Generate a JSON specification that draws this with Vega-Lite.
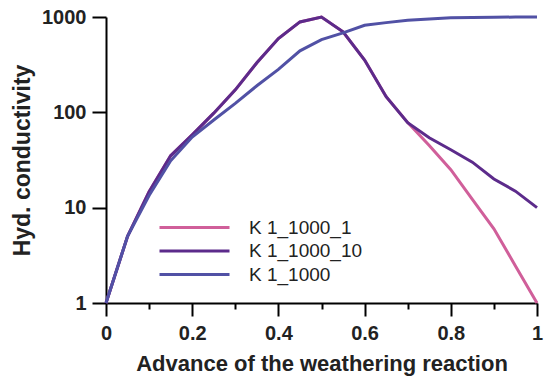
{
  "$schema": "https://vega.github.io/schema/vega-lite/v6.json",
  "autosize": {"type": "none"},
  "width": 431,
  "height": 286,
  "padding": {"left": 106, "top": 17, "right": 7, "bottom": 77},
  "background": "white",
  "config": {
    "view": {"stroke": null},
    "font": "Liberation Sans",
    "axis": {"grid": false, "ticks": true, "domainColor": "black", "domainWidth": 2, "tickColor": "black", "tickWidth": 2, "labelFont": "Liberation Sans", "labelFontWeight": "bold", "labelFontSize": 20, "labelColor": "#222", "titleFont": "Liberation Sans", "titleFontWeight": "bold", "titleColor": "#222"}
  },
  "data": {"values": [
    {"x": 0, "k": 1, "s": "K 1_1000_1"},
    {"x": 0.05, "k": 5, "s": "K 1_1000_1"},
    {"x": 0.1, "k": 14.7, "s": "K 1_1000_1"},
    {"x": 0.15, "k": 35, "s": "K 1_1000_1"},
    {"x": 0.2, "k": 58, "s": "K 1_1000_1"},
    {"x": 0.25, "k": 98, "s": "K 1_1000_1"},
    {"x": 0.3, "k": 172, "s": "K 1_1000_1"},
    {"x": 0.35, "k": 331, "s": "K 1_1000_1"},
    {"x": 0.4, "k": 594, "s": "K 1_1000_1"},
    {"x": 0.45, "k": 888, "s": "K 1_1000_1"},
    {"x": 0.5, "k": 1000, "s": "K 1_1000_1"},
    {"x": 0.55, "k": 698, "s": "K 1_1000_1"},
    {"x": 0.6, "k": 353, "s": "K 1_1000_1"},
    {"x": 0.65, "k": 146, "s": "K 1_1000_1"},
    {"x": 0.7, "k": 78, "s": "K 1_1000_1"},
    {"x": 0.75, "k": 45, "s": "K 1_1000_1"},
    {"x": 0.8, "k": 25, "s": "K 1_1000_1"},
    {"x": 0.85, "k": 12.2, "s": "K 1_1000_1"},
    {"x": 0.9, "k": 6.0, "s": "K 1_1000_1"},
    {"x": 0.95, "k": 2.45, "s": "K 1_1000_1"},
    {"x": 1.0, "k": 1, "s": "K 1_1000_1"},
    {"x": 0, "k": 1, "s": "K 1_1000_10"},
    {"x": 0.05, "k": 5, "s": "K 1_1000_10"},
    {"x": 0.1, "k": 14.7, "s": "K 1_1000_10"},
    {"x": 0.15, "k": 35, "s": "K 1_1000_10"},
    {"x": 0.2, "k": 58, "s": "K 1_1000_10"},
    {"x": 0.25, "k": 98, "s": "K 1_1000_10"},
    {"x": 0.3, "k": 172, "s": "K 1_1000_10"},
    {"x": 0.35, "k": 331, "s": "K 1_1000_10"},
    {"x": 0.4, "k": 594, "s": "K 1_1000_10"},
    {"x": 0.45, "k": 888, "s": "K 1_1000_10"},
    {"x": 0.5, "k": 1000, "s": "K 1_1000_10"},
    {"x": 0.55, "k": 698, "s": "K 1_1000_10"},
    {"x": 0.6, "k": 353, "s": "K 1_1000_10"},
    {"x": 0.65, "k": 146, "s": "K 1_1000_10"},
    {"x": 0.7, "k": 78, "s": "K 1_1000_10"},
    {"x": 0.75, "k": 54, "s": "K 1_1000_10"},
    {"x": 0.8, "k": 40.5, "s": "K 1_1000_10"},
    {"x": 0.85, "k": 30, "s": "K 1_1000_10"},
    {"x": 0.9, "k": 20, "s": "K 1_1000_10"},
    {"x": 0.95, "k": 14.9, "s": "K 1_1000_10"},
    {"x": 1.0, "k": 10, "s": "K 1_1000_10"},
    {"x": 0, "k": 1, "s": "K 1_1000"},
    {"x": 0.05, "k": 5, "s": "K 1_1000"},
    {"x": 0.1, "k": 13.4, "s": "K 1_1000"},
    {"x": 0.15, "k": 31, "s": "K 1_1000"},
    {"x": 0.2, "k": 55, "s": "K 1_1000"},
    {"x": 0.25, "k": 83, "s": "K 1_1000"},
    {"x": 0.3, "k": 124, "s": "K 1_1000"},
    {"x": 0.35, "k": 190, "s": "K 1_1000"},
    {"x": 0.4, "k": 282, "s": "K 1_1000"},
    {"x": 0.45, "k": 442, "s": "K 1_1000"},
    {"x": 0.5, "k": 580, "s": "K 1_1000"},
    {"x": 0.55, "k": 681, "s": "K 1_1000"},
    {"x": 0.6, "k": 819, "s": "K 1_1000"},
    {"x": 0.65, "k": 873, "s": "K 1_1000"},
    {"x": 0.7, "k": 924, "s": "K 1_1000"},
    {"x": 0.75, "k": 955, "s": "K 1_1000"},
    {"x": 0.8, "k": 980, "s": "K 1_1000"},
    {"x": 0.85, "k": 990, "s": "K 1_1000"},
    {"x": 0.9, "k": 995, "s": "K 1_1000"},
    {"x": 0.95, "k": 998, "s": "K 1_1000"},
    {"x": 1.0, "k": 1000, "s": "K 1_1000"}
  ]},
  "mark": {"type": "line", "strokeWidth": 3, "clip": false},
  "encoding": {
    "x": {
      "field": "x", "type": "quantitative",
      "scale": {"domain": [0, 1], "nice": false, "zero": false},
      "axis": {
        "title": "Advance of the weathering reaction",
        "titleFontSize": 22,
        "values": [0, 0.1, 0.2, 0.3, 0.4, 0.5, 0.6, 0.7, 0.8, 0.9, 1],
        "labelExpr": "round(datum.value*10) % 2 == 0 ? format(datum.value, '~g') : ''",
        "ticks": true,
        "tickSize": {"condition": {"test": "round(datum.value*10) % 2 == 0", "value": 13}, "value": 6},
        "labelPadding": 7,
        "labelFlush": false,
        "labelOverlap": false,
        "titlePadding": 10
      }
    },
    "y": {
      "field": "k", "type": "quantitative",
      "scale": {"type": "log", "domain": [1, 1000], "nice": false},
      "axis": {
        "title": "Hyd. conductivity",
        "titleFontSize": 23,
        "values": [1, 10, 100, 1000],
        "labelExpr": "format(datum.value, 'd')",
        "ticks": true,
        "tickSize": 14,
        "labelPadding": 6,
        "titlePadding": 7
      }
    },
    "color": {
      "field": "s", "type": "nominal",
      "sort": ["K 1_1000_1", "K 1_1000_10", "K 1_1000"],
      "scale": {"domain": ["K 1_1000_1", "K 1_1000_10", "K 1_1000"], "range": ["#d05f9a", "#5c2b8b", "#5151a5"]},
      "legend": {
        "title": null,
        "orient": "none",
        "legendX": 52,
        "legendY": 199,
        "padding": 0,
        "symbolType": "M-1,0H6",
        "symbolSize": 400,
        "symbolStrokeWidth": 3,
        "symbolFillColor": "transparent",
        "labelFont": "Liberation Sans",
        "labelFontSize": 19,
        "labelColor": "#222",
        "labelOffset": 68,
        "rowPadding": 1.5
      }
    }
  }
}
